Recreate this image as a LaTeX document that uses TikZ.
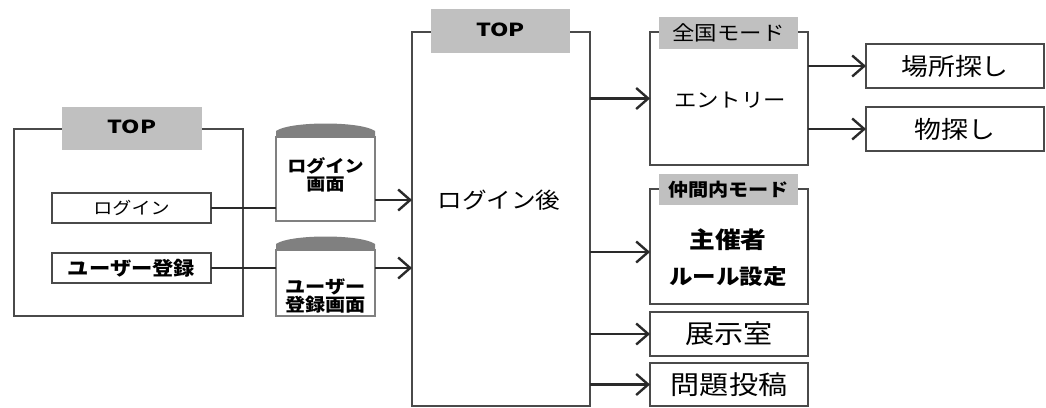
\documentclass[tikz,border=0pt]{standalone}
\usepackage{fontspec}
\setmainfont{Noto Sans CJK JP}[FakeStretch=1.12]
\newfontfamily\topfont{Noto Sans CJK JP}[FakeStretch=1.3]
\usetikzlibrary{arrows.meta,calc}
\definecolor{lbl}{HTML}{C0C0C0}
\definecolor{dome}{HTML}{808080}
\definecolor{edge}{HTML}{4A4A4A}
\definecolor{arrc}{HTML}{2A2A2A}
\newcommand{\fs}[1]{\fontsize{#1}{#1}\selectfont}
\tikzset{
  frame/.style={draw=edge,line width=1.4pt,fill=white,inner sep=0pt,outer sep=0pt},
  tag/.style={fill=lbl,inner sep=0pt,outer sep=0pt},
  scr/.style={draw=dome,line width=2.6pt,fill=white,inner sep=0pt,outer sep=0pt},
  txt/.style={inner sep=0pt,align=center},
  link/.style={draw=arrc,line width=2.8pt},
  arr/.style={link,-{Straight Barb[length=12pt,width=21pt,line width=2.4pt]}}
}
\begin{document}
\begin{tikzpicture}[x=1pt,y=-1pt]
\useasboundingbox (0,0) rectangle (1046,407);
% left TOP box
\node[frame,minimum width=229,minimum height=187] (top1) at (128.5,222.5) {};
\node[tag,minimum width=140,minimum height=43] (top1lbl) at (132,128.5) {};
\node[txt] (top1txt) at (132,127) {\topfont\fs{18}\bfseries TOP};
\node[frame,minimum width=159,minimum height=30] (login) at (131.5,208) {\fs{17}ログイン};
\node[frame,minimum width=159,minimum height=30] (reg) at (131.5,268) {\fs{19}\bfseries ユーザー登録};
% screens
\node[scr,minimum width=99,minimum height=84] (loginscr) at (325.5,179) {};
\node[scr,minimum width=99,minimum height=66] (regscr) at (325.5,283) {};
\foreach \s in {loginscr,regscr}{
  \fill[dome] (\s.north west) -- ($(\s.north west)+(0,-6)$)
    .. controls ($(\s.north west)+(14,-16)$) and ($(\s.north east)+(-14,-16)$) .. ($(\s.north east)+(0,-6)$)
    -- (\s.north east) -- cycle;
}
\node[txt] (loginscrtxt) at (325.5,175) {\fs{17}\bfseries ログイン\\[2pt]\fs{17}\bfseries 画面};
\node[txt] (regscrtxt) at (325.5,296) {\fs{18}\bfseries ユーザー\\[1pt]\fs{18}\bfseries 登録画面};
% middle box
\node[frame,minimum width=178,minimum height=374] (mid) at (501,219) {};
\node[tag,minimum width=139,minimum height=44] (midlbl) at (500.5,31) {};
\node[txt] (midlbltxt) at (500.5,30) {\topfont\fs{18}\bfseries TOP};
\node[txt] (midtxt) at (499,200) {\fs{22}ログイン後};
% national mode
\node[frame,minimum width=158,minimum height=133] (zen) at (729,98.5) {};
\node[tag,minimum width=139,minimum height=32] (zenlbl) at (728.5,33) {\fs{20}全国モード};
\node[txt] (zentxt) at (730,100) {\fs{20}エントリー};
\node[frame,minimum width=178,minimum height=44] (basho) at (955,66) {\fs{24}場所探し};
\node[frame,minimum width=178,minimum height=44] (mono) at (955,129) {\fs{24}物探し};
% friends mode
\node[frame,minimum width=158,minimum height=115] (naka) at (729,246.5) {};
\node[tag,minimum width=139,minimum height=31] (nakalbl) at (728.5,189.5) {\fs{18}\bfseries 仲間内モード};
\node[txt] (nakatxt1) at (728,240) {\fs{23}\bfseries 主催者};
\node[txt] (nakatxt2) at (728,277) {\fs{21}\bfseries ルール設定};
\node[frame,minimum width=158,minimum height=44] (tenji) at (729,334) {\fs{26}展示室};
\node[frame,minimum width=158,minimum height=43] (mondai) at (729,384.5) {\fs{26}問題投稿};
% connector levels
\coordinate (al) at (0,200);
\coordinate (ar) at (0,268);
\coordinate (an) at (0,252);
% connectors
\draw[link] (login.east) -- (loginscr.west |- login.east);
\draw[link] (reg.east) -- (regscr.west |- reg.east);
\draw[arr] (loginscr.east |- al) -- (mid.west |- al);
\draw[arr] (regscr.east |- ar) -- (mid.west |- ar);
\draw[arr] (mid.east |- zen.west) -- (zen.west);
\draw[arr] (mid.east |- an) -- (naka.west |- an);
\draw[arr] (mid.east |- tenji.west) -- (tenji.west);
\draw[arr] (mid.east |- mondai.west) -- (mondai.west);
\draw[arr] (zen.east |- basho.west) -- (basho.west);
\draw[arr] (zen.east |- mono.west) -- (mono.west);
\end{tikzpicture}
\end{document}
